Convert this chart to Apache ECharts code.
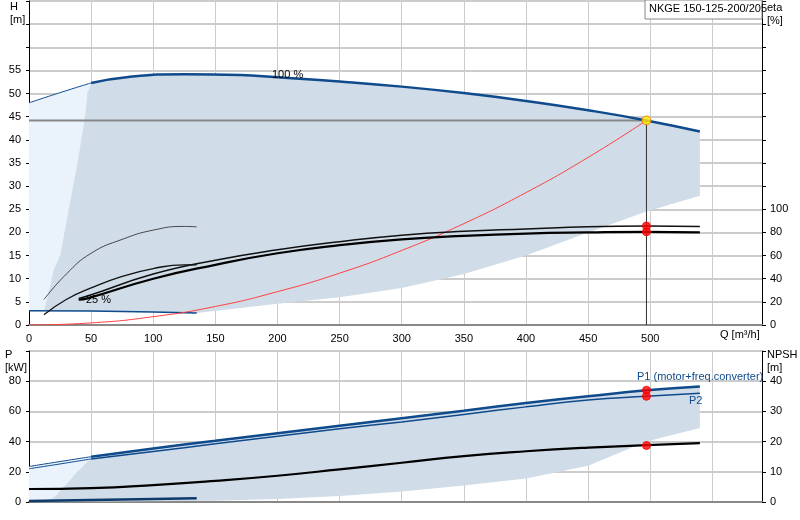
<!DOCTYPE html>
<html><head><meta charset="utf-8">
<script src="https://cdn.jsdelivr.net/npm/echarts@6/dist/echarts.min.js"></script>
<style>html,body{margin:0;padding:0;background:#fff}#c{width:800px;height:520px}</style>
</head><body><div id="c"></div>
<script>
// ---- data (Q in m3/h) ----
const hThin = [[0,48],[25,50.2],[50,52.3]];
const h100 = [[50,52.3],[80,53.6],[125,54.2],[170,54],[200,53.5],[250,52.6],[300,51.5],[350,50.1],[400,48.4],[450,46.4],[497,44.2],[540,41.8]];
const h25 = [[0,3.1],[50,3.0],[100,2.8],[135,2.6]];
const sysCurve = [[0,0],[50,0.45],[100,1.8],[150,4],[200,7.2],[250,11.2],[300,16.1],[350,21.9],[400,28.6],[450,36.2],[497,44.2]];
const etaLow = [[12,8.8],[30,22],[50,32],[75,42],[100,48.8],[125,52],[135,52]];
const etaLowThin = [[12,22],[30,44],[50,62],[75,74],[100,82],[125,85.2],[135,84.8]];
const etaPump = [[40,22],[47,23],[100,40],[150,52],[200,62],[250,69],[300,74],[350,77],[400,79],[450,80],[497,80.5],[540,80]];
const etaTotal = [[40,23],[47,25],[100,44],[150,56],[200,65],[250,72],[300,77.6],[350,81],[400,83],[450,85],[497,85.6],[540,85.2]];
const areaDark = [[12,3.2],[14,5],[20,12],[25,15],[32,25],[39,35],[45,45],[47,50],[50,52.3],[80,53.6],[125,54.2],[170,54],[200,53.5],[250,52.6],[300,51.5],[350,50.1],[400,48.4],[450,46.4],[497,44.2],[540,41.8],[540,27.9],[497,24.5],[450,20],[400,15],[350,11],[300,8],[250,6],[200,4.6],[135,2.6],[50,3.0]];
const areaLight = [[0,3.1],[12,3.2],[14,5],[20,12],[25,15],[32,25],[39,35],[45,45],[47,50],[50,52.3],[25,50.2],[0,48]];
const p1Thin = [[0,23.5],[25,26.8],[50,30]];
const p1 = [[50,30],[100,35.5],[150,40.5],[200,45.5],[250,50.5],[300,55.5],[350,60.5],[400,65.5],[450,70],[497,74],[540,76.5]];
const p2Thin = [[0,22],[25,25.2],[50,28.5]];
const p2 = [[50,28.5],[100,33.5],[150,38.5],[200,43.5],[250,48.5],[300,53],[350,58],[400,63],[450,67.5],[497,70],[540,72]];
const pLow = [[0,0.7],[50,1.3],[100,2],[135,2.5]];
const npsh = [[0,4.3],[50,4.6],[100,5.6],[150,7],[200,8.7],[250,10.8],[300,13],[350,15.2],[400,16.8],[450,18],[497,18.8],[540,19.5]];
const pDark = [[12,0.4],[20,3],[28,10],[39,20],[46,26],[50,29],[100,35.5],[150,40.5],[200,45.5],[250,50.5],[300,55.5],[350,60.5],[400,65.5],[450,70],[497,74],[540,76.5],[540,49],[497,40],[450,24],[400,15.5],[350,11],[300,7],[250,4],[200,2],[150,0.8],[60,0.4]];
const pLight = [[0,0],[12,0.4],[20,3],[28,10],[39,20],[46,26],[50,29],[50,30],[25,26.8],[0,23.5]];
const duty = {q:497, h:44.2, etaT:85.6, etaP:80.5, p1:74, p2:70, npsh:18.7};
const qTicks = [0,50,100,150,200,250,300,350,400,450,500];

const blue='#0e4a8c', dark='#d0dce7', light='#eaf3fc', gridC='#cccccc';
const chart = echarts.init(document.getElementById('c'));
function poly(pts,color,xi,yi){return {type:'custom',xAxisIndex:xi,yAxisIndex:yi,silent:true,z:1,clip:true,
  renderItem:(p,api)=>{if(p.dataIndex!==0)return;return {type:'polygon',shape:{points:pts.map(d=>api.coord(d))},style:{fill:color}};},data:pts};}
function line(d,color,w,xi,yi,z){return {type:'line',data:d,xAxisIndex:xi,yAxisIndex:yi,smooth:true,symbol:'none',silent:true,z:z||3,lineStyle:{color:color,width:w}};}
function dots(d,color,xi,yi,sz,border){return {type:'scatter',data:d,xAxisIndex:xi,yAxisIndex:yi,symbolSize:sz,z:10,itemStyle:{color:color,borderColor:border||color,borderWidth:1}};}
const lbl={color:'#000',fontSize:11,fontFamily:'Arial, Liberation Sans, sans-serif'};
const xBase={type:'value',min:0,max:590,interval:50,axisLine:{show:true,lineStyle:{color:'#888',width:2}},axisTick:{show:false},splitLine:{lineStyle:{color:gridC}}};
chart.setOption({
  animation:false,
  grid:[{left:29,right:38,top:1,height:324},{left:29,right:38,top:351,bottom:18}],
  xAxis:[
    Object.assign({},xBase,{gridIndex:0,axisLabel:Object.assign({},lbl,{formatter:v=>qTicks.includes(v)?String(v):''})}),
    Object.assign({},xBase,{gridIndex:1,axisLabel:{show:false}})
  ],
  yAxis:[
    {gridIndex:0,type:'value',min:0,max:70,interval:5,axisLine:{show:true,lineStyle:{color:'#000'}},axisTick:{show:true,length:3},axisLabel:Object.assign({},lbl,{formatter:v=>v<=55?String(v):''}),splitLine:{lineStyle:{color:gridC,width:2}}},
    {gridIndex:0,type:'value',position:'right',min:0,max:280,interval:20,axisLine:{show:true,lineStyle:{color:'#000'}},axisTick:{show:true,length:4,inside:false},axisLabel:Object.assign({},lbl,{formatter:v=>v<=100?String(v):''}),splitLine:{show:false}},
    {gridIndex:1,type:'value',min:0,max:100,interval:20,axisLine:{show:true,lineStyle:{color:'#000'}},axisTick:{show:true,length:3},axisLabel:Object.assign({},lbl,{formatter:v=>v<=80?String(v):''}),splitLine:{lineStyle:{color:gridC,width:2}}},
    {gridIndex:1,type:'value',position:'right',min:0,max:50,interval:10,axisLine:{show:true,lineStyle:{color:'#000'}},axisTick:{show:true,length:4},axisLabel:Object.assign({},lbl,{formatter:v=>v<=40?String(v):''}),splitLine:{show:false}}
  ],
  series:[
    poly(areaLight,light,0,0), poly(areaDark,dark,0,0),
    line(hThin,blue,1,0,0), line(h100,blue,2.5,0,0), line(h25,blue,1.5,0,0),
    line(sysCurve,'#ff4040',1,0,0),
    line(etaLowThin,'#222',0.8,0,1), line(etaLow,'#111',1.3,0,1),
    line(etaTotal,'#111',1.5,0,1), line(etaPump,'#000',2.2,0,1),
    {type:'line',xAxisIndex:0,yAxisIndex:0,data:[[0,duty.h],[duty.q,duty.h]],symbol:'none',silent:true,z:2,lineStyle:{color:'#888',width:2}},
    {type:'line',xAxisIndex:0,yAxisIndex:0,data:[[duty.q,0],[duty.q,duty.h]],symbol:'none',silent:true,z:4,lineStyle:{color:'#333',width:1}},
    dots([[duty.q,duty.h]],'#ffee00',0,0,9,'#ff6600'),
    dots([[duty.q,duty.etaT],[duty.q,duty.etaP]],'#ff0000',0,1,8),
    poly(pLight,light,1,2), poly(pDark,dark,1,2),
    line(p1Thin,blue,1,1,2), line(p1,blue,2.5,1,2),
    line(p2Thin,blue,1,1,2), line(p2,blue,1.5,1,2),
    line(pLow,'#0e3a6c',2.5,1,2),
    line(npsh,'#000',2.2,1,3),
    dots([[duty.q,duty.p1],[duty.q,duty.p2]],'#ff0000',1,2,8),
    dots([[duty.q,duty.npsh]],'#ff0000',1,3,8)
  ],
  graphic:[
    {type:'text',left:10,top:0,style:{text:'H\n[m]',fontSize:11,lineHeight:13,fill:'#000',align:'center'}},
    {type:'text',left:767,top:1,style:{text:'eta\n[%]',fontSize:11,lineHeight:13,fill:'#000'}},
    {type:'text',left:5,top:348,style:{text:'P\n[kW]',fontSize:11,lineHeight:13,fill:'#000'}},
    {type:'text',left:767,top:348,style:{text:'NPSH\n[m]',fontSize:11,lineHeight:13,fill:'#000'}},
    {type:'text',left:720,top:329,style:{text:'Q [m³/h]',fontSize:11,fill:'#000'}},
    {type:'rect',shape:{x:645,y:0,width:117,height:19},style:{fill:'#fff',stroke:'#888'},z:20},
    {type:'text',left:649,top:3,z:21,style:{text:'NKGE 150-125-200/205',fontSize:11,fill:'#000'}},
    {type:'text',left:272,top:69,z:21,style:{text:'100 %',fontSize:11,fill:'#000'}},
    {type:'text',left:86,top:294,z:21,style:{text:'25 %',fontSize:11,fill:'#000'}},
    {type:'text',left:637,top:371,z:21,style:{text:'P1 (motor+freq.converter)',fontSize:11,fill:blue}},
    {type:'text',left:689,top:395,z:21,style:{text:'P2',fontSize:11,fill:blue}}
  ]
});
</script></body></html>
